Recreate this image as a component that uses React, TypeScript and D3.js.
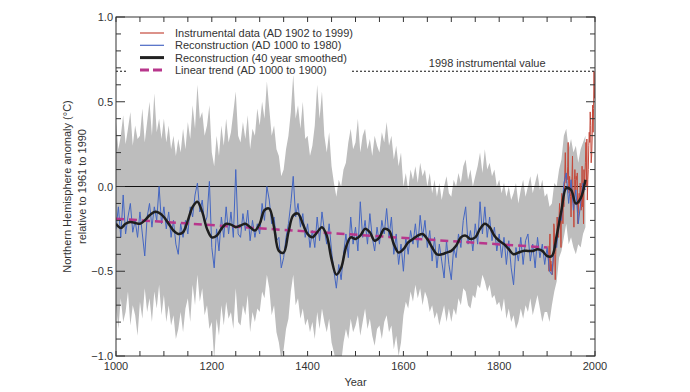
import * as d3 from 'd3';
import { useRef, useEffect } from 'react';

// Reconstrucción anual (cada 5 años, AD 1000 a 1980)
const reconYears = d3.range(1000, 1981, 5);
const reconValues = [
  -0.25, -0.12, -0.3, -0.05, -0.28, -0.18, -0.1, -0.27, -0.2, -0.3, -0.15, -0.28, -0.41, -0.18, -0.1, -0.24, -0.12, -0.2, 0.0, -0.22,
  -0.12, -0.25, -0.15, -0.3, -0.2, -0.34, -0.4, -0.22, -0.3, -0.2, -0.28, -0.12, -0.18, -0.05, 0.02, -0.15, -0.08, -0.22, -0.18, 0.03,
  -0.36, -0.48, -0.25, -0.38, -0.18, -0.3, -0.12, -0.28, -0.15, -0.3, 0.1, -0.28, -0.3, -0.16, -0.26, -0.14, -0.32, -0.2, -0.3, -0.22,
  -0.28, -0.1, -0.2, 0.0, -0.08, -0.22, -0.18, -0.32, -0.3, -0.48, -0.42, -0.3, -0.22, -0.1, 0.06, -0.18, -0.1, -0.24, -0.16, -0.3,
  -0.22, -0.36, -0.26, -0.36, -0.18, -0.32, -0.15, -0.26, -0.34, -0.22, -0.38, -0.5, -0.6, -0.46, -0.55, -0.4, -0.28, -0.42, -0.18, -0.34,
  -0.24, -0.38, -0.09, -0.3, -0.2, -0.34, -0.16, -0.3, -0.38, -0.24, -0.34, -0.2, -0.28, -0.13, -0.3, -0.18, -0.4, -0.28, -0.46, -0.34,
  -0.5, -0.3, -0.4, -0.26, -0.34, -0.22, -0.36, -0.17, -0.3, -0.2, -0.36, -0.26, -0.44, -0.3, -0.48, -0.34, -0.44, -0.54, -0.32, -0.46,
  -0.55, -0.36, -0.42, -0.28, -0.36, -0.2, -0.12, -0.34, -0.26, -0.38, -0.22, -0.34, -0.09, -0.28, -0.12, -0.3, -0.18, -0.32, -0.24, -0.38,
  -0.28, -0.42, -0.3, -0.46, -0.32, -0.48, -0.58, -0.36, -0.44, -0.3, -0.46, -0.32, -0.28, -0.44, -0.34, -0.48, -0.3, -0.42, -0.34, -0.46,
  -0.36, -0.5, -0.52, -0.34, -0.36, -0.18, -0.2, 0.02, 0.08, -0.1, 0.04, -0.14, -0.02, -0.22, -0.1, 0.02, -0.02,
];

// Banda de incertidumbre (gris), mismos años
const bandUpper = [
  0.38, 0.22, 0.3, 0.42, 0.25, 0.34, 0.44, 0.24, 0.36, 0.28, 0.3, 0.46, 0.26, 0.38, 0.5, 0.3, 0.55, 0.32, 0.4, 0.28,
  0.4, 0.26, 0.36, 0.22, 0.3, 0.18, 0.28, 0.2, 0.34, 0.22, 0.38, 0.28, 0.48, 0.34, 0.6, 0.4, 0.44, 0.3, 0.36, 0.48,
  0.2, 0.12, 0.3, 0.18, 0.36, 0.24, 0.4, 0.26, 0.32, 0.44, 0.56, 0.3, 0.26, 0.38, 0.28, 0.42, 0.22, 0.34, 0.3, 0.46,
  0.36, 0.5, 0.4, 0.62, 0.46, 0.3, 0.36, 0.22, 0.18, 0.06, 0.1, 0.22, 0.3, 0.44, 0.66, 0.4, 0.48, 0.34, 0.5, 0.28,
  0.3, 0.18, 0.24, 0.36, 0.6, 0.4, 0.56, 0.3, 0.2, 0.32, 0.12, 0.02, -0.06, 0.04, 0.0, 0.1, 0.14, 0.26, 0.34, 0.22,
  0.26, 0.4, 0.2, 0.3, 0.34, 0.22, 0.28, 0.18, 0.3, 0.24, 0.2, 0.32, 0.26, 0.38, 0.24, 0.3, 0.16, 0.24, 0.12, 0.2,
  0.0, 0.08, -0.02, 0.1, 0.04, 0.12, 0.02, 0.14, 0.06, 0.1, 0.0, 0.08, -0.04, 0.04, -0.06, 0.02, -0.08, 0.0, 0.06, -0.04,
  -0.06, 0.04, 0.0, 0.08, 0.02, 0.12, 0.16, 0.04, 0.1, 0.0, 0.06, 0.12, 0.2, 0.08, 0.22, 0.1, 0.14, 0.06, 0.1, 0.0,
  0.04, -0.04, 0.02, -0.06, 0.0, -0.08, -0.04, 0.02, -0.1, -0.02, 0.04, -0.06, 0.0, 0.06, -0.04, 0.02, 0.08, -0.02, 0.04, -0.06,
  -0.04, -0.12, -0.1, 0.02, 0.0, 0.1, 0.16, 0.3, 0.34, 0.22, 0.28, 0.2, 0.24, 0.14, 0.22, 0.26, 0.3,
];
const bandLower = [
  -0.7, -0.84, -0.66, -0.8, -0.74, -0.62, -0.82, -0.7, -0.76, -0.88, -0.68, -0.78, -0.6, -0.74, -0.66, -0.8, -0.62, -0.72, -0.58, -0.76,
  -0.64, -0.8, -0.7, -0.82, -0.76, -0.9, -0.84, -0.74, -0.86, -0.72, -0.66, -0.8, -0.58, -0.7, -0.52, -0.68, -0.6, -0.76, -0.7, -0.84,
  -0.8, -1.02, -0.78, -0.88, -0.7, -0.82, -0.68, -0.78, -0.74, -0.84, -0.6, -0.8, -0.82, -0.7, -0.76, -0.64, -0.86, -0.74, -0.8, -0.72,
  -0.74, -0.62, -0.66, -0.52, -0.6, -0.76, -0.7, -0.86, -0.92, -1.02, -0.96, -0.84, -0.78, -0.62, -0.52, -0.7, -0.66, -0.78, -0.72, -0.82,
  -0.78, -0.86, -0.8, -0.9, -0.74, -0.84, -0.72, -0.8, -0.86, -0.78, -0.92, -0.98, -1.05, -1.0, -1.04, -0.92, -0.84, -0.9, -0.78, -0.86,
  -0.82, -0.76, -0.88, -0.8, -0.72, -0.84, -0.78, -0.88, -0.94, -0.84, -0.82, -0.9, -0.8, -0.76, -0.86, -0.82, -0.96, -0.88, -1.0, -0.92,
  -0.76, -0.68, -0.72, -0.62, -0.68, -0.58, -0.66, -0.6, -0.7, -0.62, -0.66, -0.74, -0.7, -0.78, -0.74, -0.82, -0.76, -0.7, -0.8, -0.72,
  -0.8, -0.72, -0.76, -0.66, -0.7, -0.6, -0.62, -0.7, -0.72, -0.64, -0.66, -0.58, -0.6, -0.52, -0.56, -0.62, -0.58, -0.66, -0.64, -0.7,
  -0.68, -0.74, -0.66, -0.78, -0.72, -0.8, -0.76, -0.84, -0.8, -0.72, -0.78, -0.7, -0.74, -0.66, -0.76, -0.7, -0.64, -0.72, -0.8, -0.74,
  -0.74, -0.8, -0.7, -0.62, -0.56, -0.42, -0.38, -0.3, -0.22, -0.34, -0.3, -0.36, -0.4, -0.34, -0.36, -0.28, -0.24,
];

// Suavizado 40 años (cada 10 años)
const smoothYears = d3.range(1000, 1981, 10);
const smoothValues = [
  -0.22, -0.245, -0.22, -0.21, -0.215, -0.22, -0.2, -0.17, -0.15, -0.155,
  -0.18, -0.22, -0.26, -0.28, -0.27, -0.2, -0.12, -0.09, -0.15, -0.25,
  -0.3, -0.29, -0.25, -0.22, -0.225, -0.24, -0.23, -0.22, -0.24, -0.26,
  -0.22, -0.14, -0.13, -0.24, -0.38, -0.39, -0.27, -0.17, -0.16, -0.22,
  -0.28, -0.3, -0.27, -0.24, -0.29, -0.43, -0.52, -0.48, -0.36, -0.3,
  -0.31, -0.29, -0.25, -0.27, -0.32, -0.3, -0.25, -0.26, -0.34, -0.39,
  -0.37, -0.33, -0.31, -0.29, -0.28, -0.31, -0.36, -0.4, -0.4, -0.39,
  -0.38, -0.35, -0.3, -0.29, -0.31, -0.3, -0.25, -0.22, -0.24, -0.29,
  -0.32, -0.34, -0.37, -0.4, -0.39, -0.38, -0.38, -0.38, -0.37, -0.38,
  -0.41, -0.41, -0.29, -0.14, -0.01, -0.02, -0.1, -0.07, 0.04,
];

// Datos instrumentales (AD 1902 a 1999)
const instrYears = d3.range(1902, 2000);
const instrValues = [
  -0.35, -0.45, -0.5, -0.35, -0.28, -0.5, -0.44, -0.5, -0.46, -0.52, -0.48, -0.44, -0.22, -0.24, -0.4, -0.55, -0.4, -0.3, -0.3, -0.18,
  -0.3, -0.26, -0.3, -0.18, -0.1, -0.18, -0.2, -0.36, -0.08, -0.04, -0.1, -0.22, -0.06, -0.12, -0.04, 0.08, 0.2, 0.04, 0.02, 0.06,
  0.04, 0.12, 0.26, 0.02, -0.04, 0.06, -0.02, -0.06, -0.18, -0.02, 0.06, 0.18, -0.08, -0.1, -0.24, 0.04, 0.1, 0.04, -0.02, 0.06,
  0.04, 0.08, -0.22, -0.16, -0.08, -0.04, -0.1, 0.02, -0.02, -0.14, -0.12, 0.12, -0.12, -0.04, -0.22, 0.1, -0.02, 0.08, 0.14, 0.26,
  0.0, 0.28, -0.08, 0.04, 0.1, 0.24, 0.32, 0.26, 0.44, 0.36, 0.14, 0.18, 0.28, 0.48, 0.32, 0.46, 0.68, 0.52,
];

// Tendencia lineal (AD 1000 a 1900)
const trendYears = [1000, 1900];
const trendValues = [-0.19, -0.36];

const value1998 = 0.68;

const xTicks = [1000, 1200, 1400, 1600, 1800, 2000];
const yTicks = [1.0, 0.5, 0.0, -0.5, -1.0];

const legendItems = [
  { label: 'Instrumental data (AD 1902 to 1999)', color: '#c4493b', width: 1.2, dash: null },
  { label: 'Reconstruction (AD 1000 to 1980)', color: '#4a68c4', width: 1.2, dash: null },
  { label: 'Reconstruction (40 year smoothed)', color: '#222', width: 3, dash: null },
  { label: 'Linear trend (AD 1000 to 1900)', color: '#b8368c', width: 3, dash: '9,4' },
];

const FONT = '"Liberation Sans", Arial, Helvetica, sans-serif';
const TEXT = '#333';

const HockeyStick = () => {
  const svgRef = useRef<SVGSVGElement | null>(null);

  useEffect(() => {
    const width = 690;
    const height = 392;
    const margin = { top: 17, right: 95, bottom: 36, left: 116 };
    const innerWidth = width - margin.left - margin.right;
    const innerHeight = height - margin.top - margin.bottom;

    const x = d3.scaleLinear().domain([1000, 2000]).range([0, innerWidth]);
    const y = d3.scaleLinear().domain([-1, 1]).range([innerHeight, 0]);

    d3.select(svgRef.current).selectAll('*').remove();

    const root = d3.select(svgRef.current).attr('width', width).attr('height', height);
    root
      .append('defs')
      .append('clipPath')
      .attr('id', 'plot-clip')
      .append('rect')
      .attr('width', innerWidth)
      .attr('height', innerHeight);

    const svg = root.append('g').attr('transform', `translate(${margin.left},${margin.top})`);
    const plot = svg.append('g').attr('clip-path', 'url(#plot-clip)');

    // Banda gris
    const area = d3
      .area<number>()
      .x((_, i) => x(reconYears[i]))
      .y0((_, i) => y(bandLower[i]))
      .y1((_, i) => y(bandUpper[i]));
    plot.append('path').datum(reconValues).attr('d', area).attr('fill', '#bdbdbd');

    // Línea cero
    plot
      .append('line')
      .attr('x1', 0)
      .attr('x2', innerWidth)
      .attr('y1', y(0))
      .attr('y2', y(0))
      .attr('stroke', '#111')
      .attr('stroke-width', 1);

    // Instrumental
    const instrLine = d3
      .line<number>()
      .x((_, i) => x(instrYears[i]))
      .y((d) => y(d));
    plot
      .append('path')
      .datum(instrValues)
      .attr('d', instrLine)
      .attr('fill', 'none')
      .attr('stroke', '#c4493b')
      .attr('stroke-width', 1);

    // Reconstrucción
    const reconLine = d3
      .line<number>()
      .x((_, i) => x(reconYears[i]))
      .y((d) => y(d));
    plot
      .append('path')
      .datum(reconValues)
      .attr('d', reconLine)
      .attr('fill', 'none')
      .attr('stroke', '#4466c2')
      .attr('stroke-width', 1);

    // Tendencia lineal
    const trendLine = d3
      .line<number>()
      .x((_, i) => x(trendYears[i]))
      .y((d) => y(d));
    plot
      .append('path')
      .datum(trendValues)
      .attr('d', trendLine)
      .attr('fill', 'none')
      .attr('stroke', '#b8368c')
      .attr('stroke-width', 2.5)
      .attr('stroke-dasharray', '8,5');

    // Suavizado
    const smoothLine = d3
      .line<number>()
      .x((_, i) => x(smoothYears[i]))
      .y((d) => y(d))
      .curve(d3.curveCatmullRom);
    plot
      .append('path')
      .datum(smoothValues)
      .attr('d', smoothLine)
      .attr('fill', 'none')
      .attr('stroke', '#1e1e1e')
      .attr('stroke-width', 2.5);

    // Valor instrumental 1998
    svg
      .append('line')
      .attr('x1', 0)
      .attr('x2', innerWidth)
      .attr('y1', y(value1998))
      .attr('y2', y(value1998))
      .attr('stroke', '#111')
      .attr('stroke-width', 1)
      .attr('stroke-dasharray', '2,2');

    svg
      .append('text')
      .attr('x', x(1775))
      .attr('y', y(value1998) - 4)
      .attr('text-anchor', 'middle')
      .attr('font-family', FONT)
      .attr('font-size', '11px')
      .attr('fill', TEXT)
      .text('1998 instrumental value');

    // Leyenda
    const legend = svg.append('g').attr('transform', 'translate(12,5)');
    legend.append('rect').attr('x', 0).attr('y', 0).attr('width', 222).attr('height', 54).attr('fill', '#fff');
    legendItems.forEach((item, i) => {
      const ly = 11 + i * 12.3;
      legend
        .append('line')
        .attr('x1', 12)
        .attr('x2', 36)
        .attr('y1', ly)
        .attr('y2', ly)
        .attr('stroke', item.color)
        .attr('stroke-width', item.width)
        .attr('stroke-dasharray', item.dash);
      legend
        .append('text')
        .attr('x', 47)
        .attr('y', ly + 4)
        .attr('font-family', FONT)
        .attr('font-size', '11px')
        .attr('fill', TEXT)
        .text(item.label);
    });

    // Marco
    svg
      .append('rect')
      .attr('width', innerWidth)
      .attr('height', innerHeight)
      .attr('fill', 'none')
      .attr('stroke', '#333')
      .attr('stroke-width', 1);

    // Marcas X (arriba y abajo)
    d3.range(1000, 2001, 50).forEach((v) => {
      svg
        .append('line')
        .attr('x1', x(v))
        .attr('x2', x(v))
        .attr('y1', innerHeight)
        .attr('y2', innerHeight - 5)
        .attr('stroke', '#333');
      svg
        .append('line')
        .attr('x1', x(v))
        .attr('x2', x(v))
        .attr('y1', 0)
        .attr('y2', 5)
        .attr('stroke', '#333');
    });
    xTicks.forEach((v) => {
      svg
        .append('text')
        .attr('x', x(v))
        .attr('y', innerHeight + 14)
        .attr('text-anchor', 'middle')
        .attr('font-family', FONT)
        .attr('font-size', '11px')
        .attr('fill', TEXT)
        .text(v);
    });

    // Marcas Y (izquierda y derecha)
    d3.range(-10, 11).forEach((k) => {
      const v = k / 10;
      const len = k % 5 === 0 ? 9 : 5;
      svg
        .append('line')
        .attr('x1', 0)
        .attr('x2', len)
        .attr('y1', y(v))
        .attr('y2', y(v))
        .attr('stroke', '#333');
      svg
        .append('line')
        .attr('x1', innerWidth)
        .attr('x2', innerWidth - len)
        .attr('y1', y(v))
        .attr('y2', y(v))
        .attr('stroke', '#333');
    });
    yTicks.forEach((v) => {
      svg
        .append('text')
        .attr('x', -3)
        .attr('y', y(v) + 4)
        .attr('text-anchor', 'end')
        .attr('font-family', FONT)
        .attr('font-size', '11px')
        .attr('fill', TEXT)
        .text(v < 0 ? `\u2212${Math.abs(v).toFixed(1)}` : v.toFixed(1));
    });

    // Títulos de ejes
    svg
      .append('text')
      .attr('x', innerWidth / 2)
      .attr('y', innerHeight + 30)
      .attr('text-anchor', 'middle')
      .attr('font-family', FONT)
      .attr('font-size', '11px')
      .attr('fill', TEXT)
      .text('Year');

    const yTitle = svg
      .append('text')
      .attr('transform', `translate(-45,${innerHeight / 2}) rotate(-90)`)
      .attr('text-anchor', 'middle')
      .attr('font-family', FONT)
      .attr('font-size', '11px')
      .attr('fill', TEXT);
    yTitle.append('tspan').attr('x', 0).attr('y', 0).text('Northern Hemisphere anomaly (\u00B0C)');
    yTitle.append('tspan').attr('x', 0).attr('y', 15).text('relative to 1961 to 1990');
  }, []);

  return <svg ref={svgRef} style={{ position: 'absolute', left: 0, top: 0 }} />;
};

export default function App() {
  return <HockeyStick />;
}
